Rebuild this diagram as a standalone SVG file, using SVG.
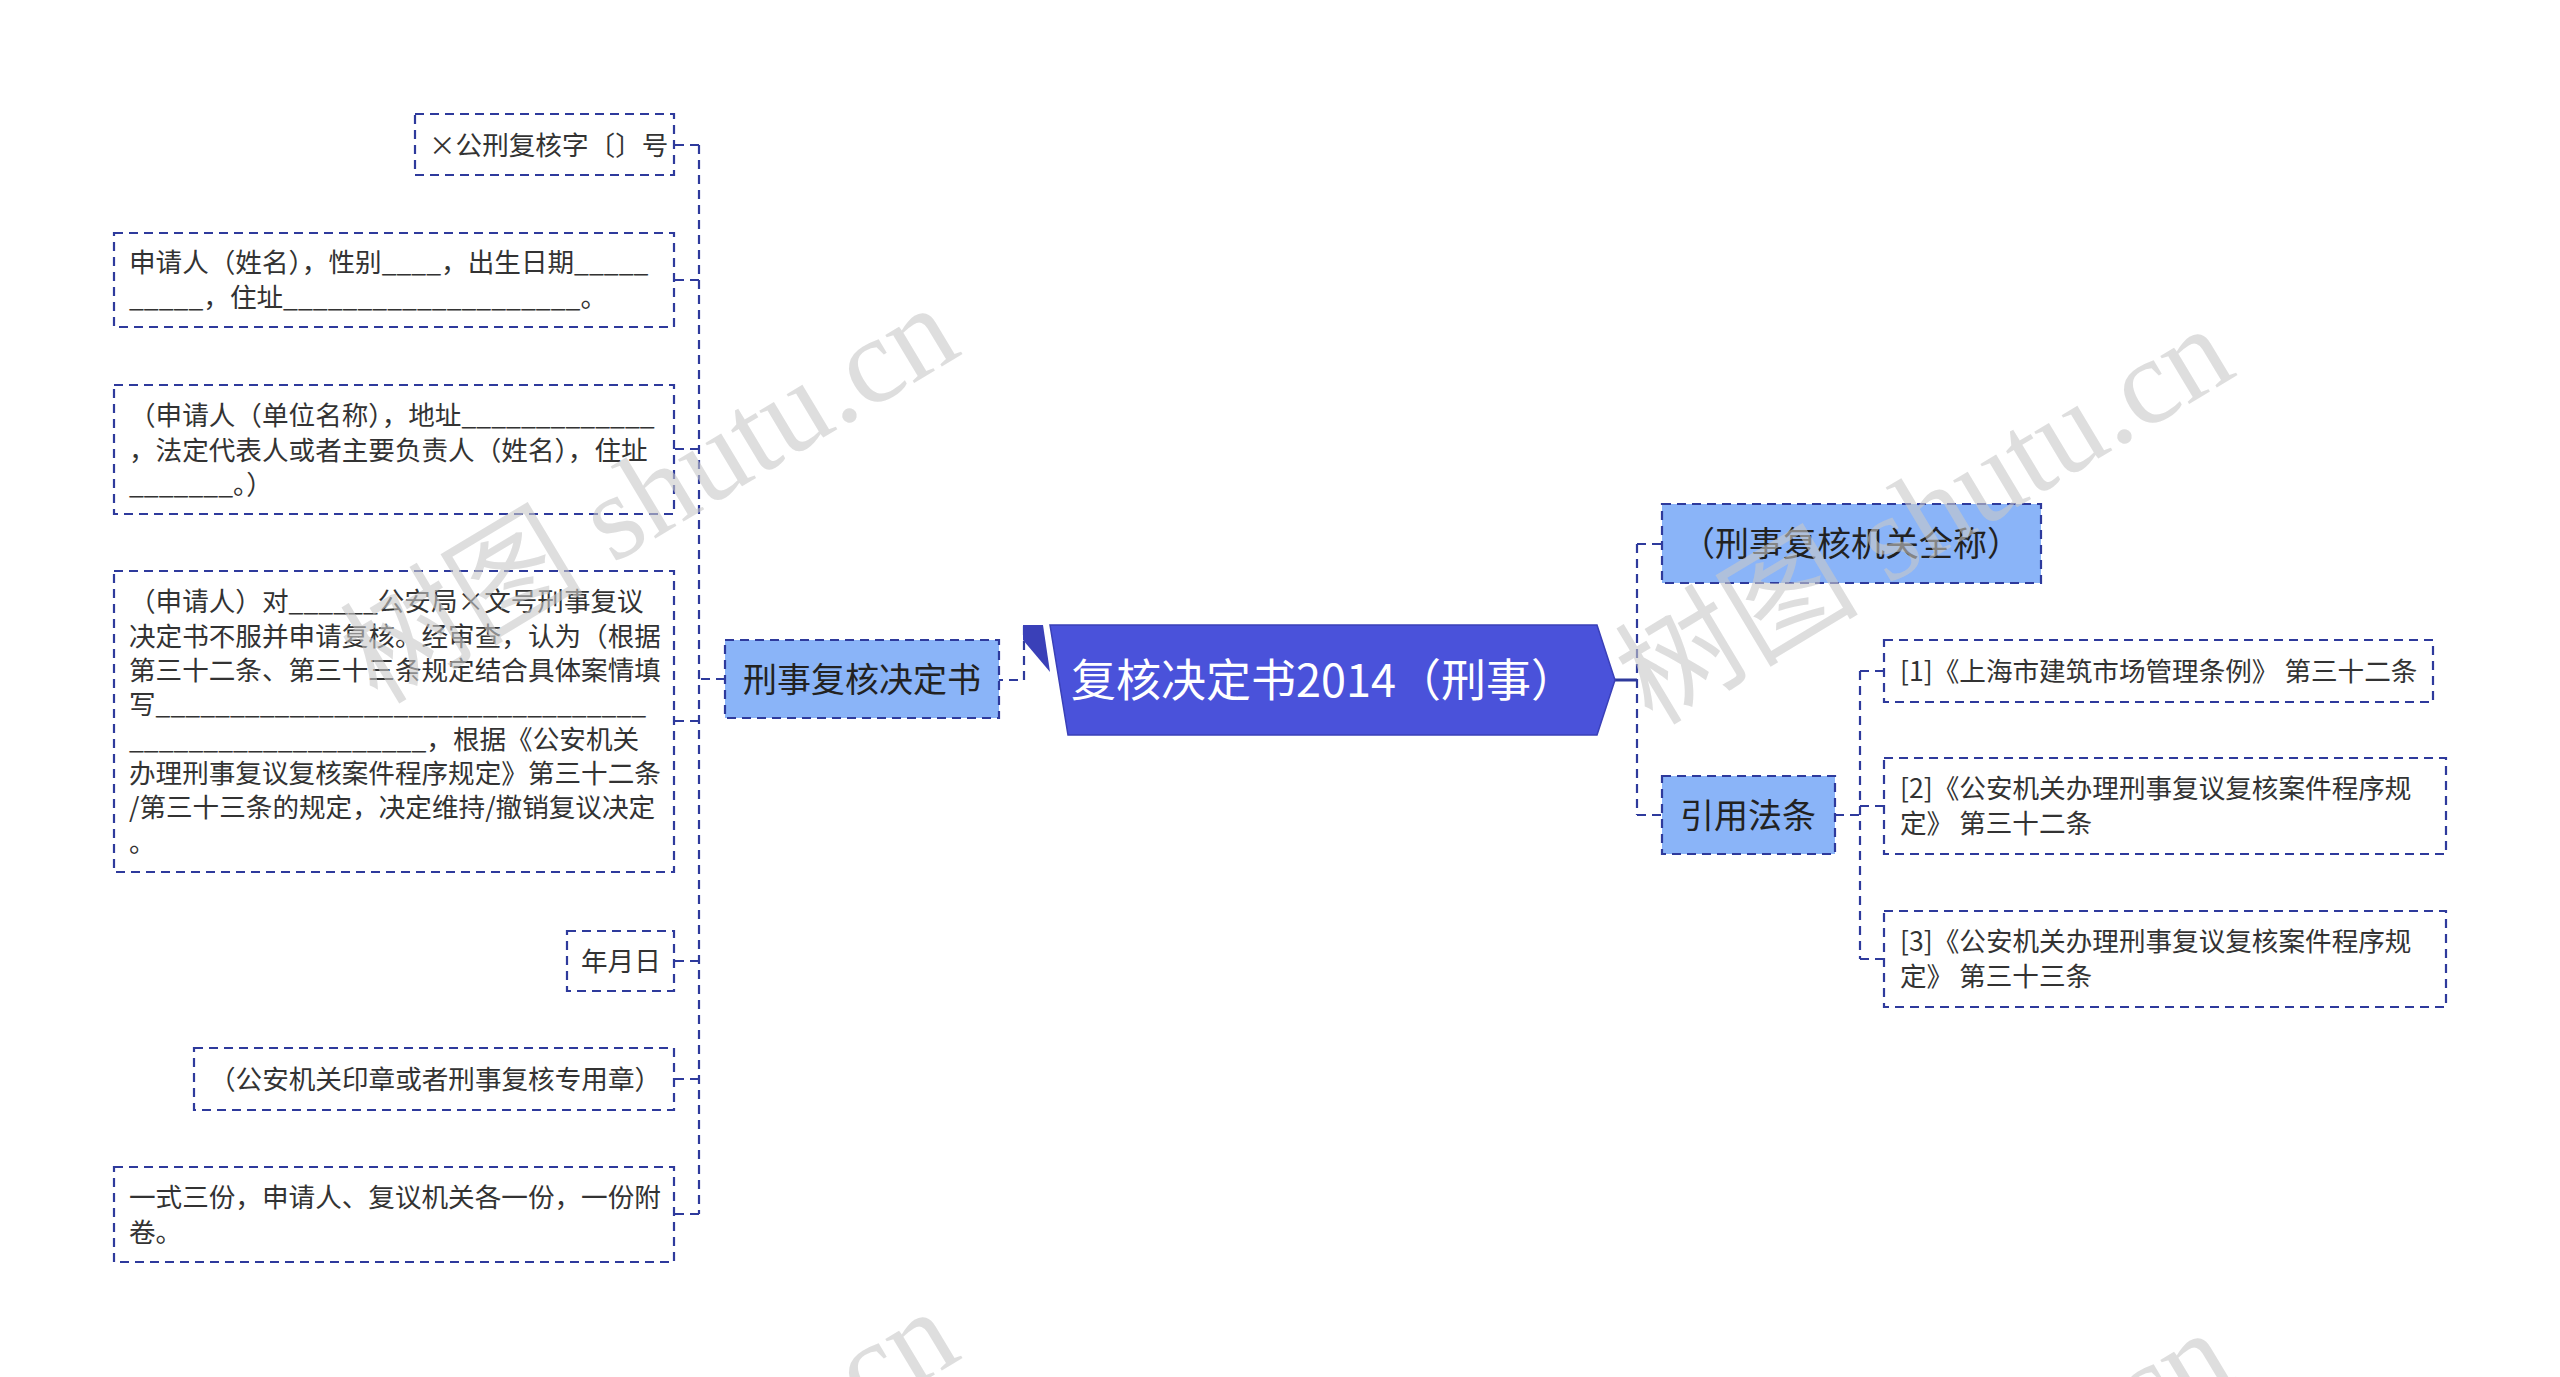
<svg xmlns="http://www.w3.org/2000/svg" width="2560" height="1377" viewBox="0 0 2560 1377">
<style>
.leaf{fill:#ffffff;stroke:#2e3a9c;stroke-width:2.2;stroke-dasharray:9 6}
.branch{fill:#8ab4f8;stroke:#2e3a9c;stroke-width:2.2;stroke-dasharray:9 6}
.conn{fill:none;stroke:#2e3a9c;stroke-width:2.2;stroke-dasharray:9 6}
.t{font-family:"Noto Sans CJK SC","Noto Sans",sans-serif;font-size:26.6px;fill:#333333}
.bt{font-family:"Noto Sans CJK SC","Noto Sans",sans-serif;font-size:34px;fill:#222222}
.ct{font-family:"Noto Sans CJK SC","Noto Sans",sans-serif;font-size:45px;fill:#ffffff}
.wm{font-family:"Liberation Serif","Noto Sans CJK SC",serif;font-size:122px;fill:#c8c8c8;fill-opacity:0.6}
</style>
<rect width="2560" height="1377" fill="#ffffff"/>

<g id="connectors">
<path class="conn" d="M1024,626 V680 H999"/>
<path class="conn" d="M725,679 H699"/>
<path class="conn" d="M699,145 V1214"/>
<path class="conn" d="M699,145 H674 M699,280 H674 M699,449 H674 M699,721 H674 M699,961 H674 M699,1079 H674 M699,1214 H674"/>
<path d="M1613,680 H1637" fill="none" stroke="#2e3a9c" stroke-width="3"/>
<path class="conn" d="M1637,544 V815"/>
<path class="conn" d="M1637,544 H1662 M1637,815 H1662"/>
<path class="conn" d="M1835,815 H1860"/>
<path class="conn" d="M1860,671 V959"/>
<path class="conn" d="M1860,671 H1884 M1860,806 H1884 M1860,959 H1884"/>
</g>

<g id="center">
<polygon points="1050,625 1597,625 1615,680 1597,735 1068,735" fill="#4a52da" stroke="#3a40b8" stroke-width="1.5"/>
<polygon points="1023,625 1043,625 1050,672 1023,640" fill="#3a40b8"/>
<text class="ct" x="1071" y="697">复核决定书2014（刑事）</text>
</g>

<g id="branch-left">
<rect class="branch" x="725" y="640" width="274" height="78"/>
<text class="bt" x="862" y="692" text-anchor="middle">刑事复核决定书</text>
</g>

<g id="leaf1">
<rect class="leaf" x="415" y="114" width="259" height="61"/>
<text class="t" x="429" y="155">×公刑复核字〔〕号</text>
</g>

<g id="leaf2">
<rect class="leaf" x="114" y="233" width="560" height="94"/>
<text class="t" x="129" y="272">申请人（姓名），性别____，出生日期_____</text>
<text class="t" x="129" y="307">_____，住址____________________。</text>
</g>

<g id="leaf3">
<rect class="leaf" x="114" y="385" width="560" height="129"/>
<text class="t" x="129" y="425">（申请人（单位名称），地址_____________</text>
<text class="t" x="129" y="460">，法定代表人或者主要负责人（姓名），住址</text>
<text class="t" x="129" y="494">_______。）</text>
</g>

<g id="leaf4">
<rect class="leaf" x="114" y="571" width="560" height="301"/>
<text class="t" x="129" y="611">（申请人）对______公安局×文号刑事复议</text>
<text class="t" x="129" y="646">决定书不服并申请复核。经审查，认为（根据</text>
<text class="t" x="129" y="680">第三十二条、第三十三条规定结合具体案情填</text>
<text class="t" x="129" y="714">写_________________________________</text>
<text class="t" x="129" y="749">____________________，根据《公安机关</text>
<text class="t" x="129" y="783">办理刑事复议复核案件程序规定》第三十二条</text>
<text class="t" x="129" y="817">/第三十三条的规定，决定维持/撤销复议决定</text>
<text class="t" x="129" y="852">。</text>
</g>

<g id="leaf5">
<rect class="leaf" x="567" y="931" width="107" height="60"/>
<text class="t" x="581" y="971">年月日</text>
</g>

<g id="leaf6">
<rect class="leaf" x="194" y="1048" width="480" height="62"/>
<text class="t" x="209" y="1089">（公安机关印章或者刑事复核专用章）</text>
</g>

<g id="leaf7">
<rect class="leaf" x="114" y="1167" width="560" height="95"/>
<text class="t" x="129" y="1207">一式三份，申请人、复议机关各一份，一份附</text>
<text class="t" x="129" y="1242">卷。</text>
</g>

<g id="branch-right1">
<rect class="branch" x="1662" y="504" width="379" height="79"/>
<text class="bt" x="1851" y="556" text-anchor="middle">（刑事复核机关全称）</text>
</g>

<g id="branch-right2">
<rect class="branch" x="1662" y="776" width="173" height="78"/>
<text class="bt" x="1748" y="828" text-anchor="middle">引用法条</text>
</g>

<g id="ref1">
<rect class="leaf" x="1884" y="640" width="549" height="62"/>
<text class="t" x="1900" y="681">[1]《上海市建筑市场管理条例》 第三十二条</text>
</g>

<g id="ref2">
<rect class="leaf" x="1884" y="758" width="562" height="96"/>
<text class="t" x="1900" y="798">[2]《公安机关办理刑事复议复核案件程序规</text>
<text class="t" x="1900" y="833">定》 第三十二条</text>
</g>

<g id="ref3">
<rect class="leaf" x="1884" y="911" width="562" height="96"/>
<text class="t" x="1900" y="951">[3]《公安机关办理刑事复议复核案件程序规</text>
<text class="t" x="1900" y="986">定》 第三十三条</text>
</g>

<g id="watermarks">
<text class="wm" x="650" y="535" text-anchor="middle" transform="rotate(-31 650 495)">树图 shutu.cn</text>
<text class="wm" x="1925" y="556" text-anchor="middle" transform="rotate(-31 1925 516)">树图 shutu.cn</text>
<text class="wm" x="650" y="1539" text-anchor="middle" transform="rotate(-31 650 1499)">树图 shutu.cn</text>
<text class="wm" x="1925" y="1560" text-anchor="middle" transform="rotate(-31 1925 1520)">树图 shutu.cn</text>
</g>
</svg>
